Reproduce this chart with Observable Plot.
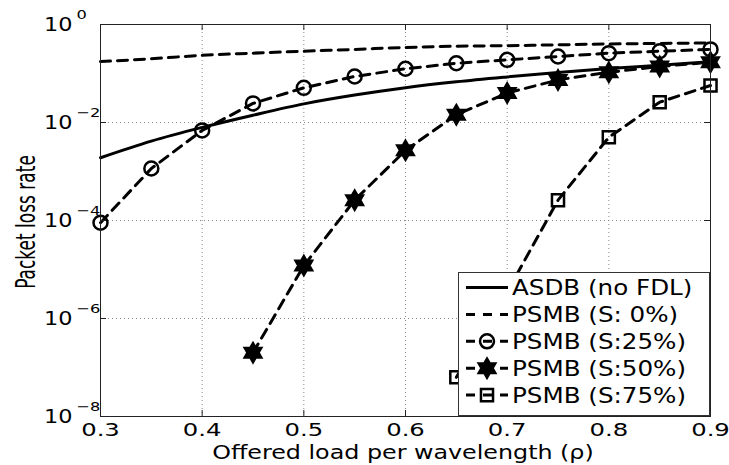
<!DOCTYPE html>
<html><head><meta charset="utf-8">
<script src="https://cdn.jsdelivr.net/npm/d3@7"></script>
<script src="https://cdn.jsdelivr.net/npm/@observablehq/plot@0.6"></script>
<style>
body{margin:0;background:#fff;}
svg{font-family:"DejaVu Sans",sans-serif;}
</style></head><body><div id="chart"></div>
<script>
// ---- data ----
const loads   = [0.3,0.35,0.4,0.45,0.5,0.55,0.6,0.65,0.7,0.75,0.8,0.85,0.9];
const asdb    = [0.00191,0.00417,0.00794,0.0141,0.024,0.0363,0.0513,0.0676,0.0851,0.105,0.126,0.148,0.174];
const psmb0   = [0.175,0.2,0.235,0.26,0.285,0.31,0.34,0.36,0.37,0.385,0.40,0.41,0.42];
const psmb25  = [9e-5,0.00115,0.0069,0.0245,0.051,0.087,0.125,0.162,0.19,0.222,0.26,0.285,0.31];
const loads50 = [0.45,0.5,0.55,0.6,0.65,0.7,0.75,0.8,0.85,0.9];
const psmb50  = [2e-7,1.2e-5,2.6e-4,0.0027,0.0144,0.04,0.074,0.106,0.139,0.17];
const loads75 = [0.65,0.7,0.75,0.8,0.85,0.9];
const psmb75  = [6.3e-8,3.5e-6,2.6e-4,0.005,0.026,0.057];
const seriesNames = ["ASDB (no FDL)","PSMB (S: 0%)","PSMB (S:25%)","PSMB (S:50%)","PSMB (S:75%)"];
const xTicks = [0.3,0.4,0.5,0.6,0.7,0.8,0.9];
const xTickLabels = ["0.3","0.4","0.5","0.6","0.7","0.8","0.9"];
const yTicks = [1e-8,1e-6,1e-4,1e-2,1];
const yTickExp = ["\u22128","\u22126","\u22124","\u22122","0"];
const xLabel = "Offered load per wavelength (\u03c1)";
const yLabel = "Packet loss rate";

const rows = [];
const addSeries = (name, xs, ys) => xs.forEach((x,i)=>rows.push({series:name, x, y:ys[i]}));
addSeries(seriesNames[0], loads, asdb);
addSeries(seriesNames[1], loads, psmb0);
addSeries(seriesNames[2], loads, psmb25);
addSeries(seriesNames[3], loads50, psmb50);
addSeries(seriesNames[4], loads75, psmb75);

const hexagram = { draw(ctx, size) {
  const R = Math.sqrt(size/Math.PI), r = R/Math.sqrt(3);
  for (let i=0;i<12;i++){ const a = Math.PI/6*i - Math.PI/2; const rr = i%2?r:R;
    const x = rr*Math.cos(a), y = rr*Math.sin(a); i?ctx.lineTo(x,y):ctx.moveTo(x,y);}
  ctx.closePath(); } };

const dash = "10,7";
const styles = [
  {dash: null, symbol: null, curve: "monotone-x"},
  {dash: dash, symbol: null, curve: "monotone-x"},
  {dash: dash, symbol: "circle", r: 7, fill: "none", curve: "linear"},
  {dash: dash, symbol: hexagram, r: 9.5, fill: "black", curve: "linear"},
  {dash: dash, symbol: "square", r: 6.8, fill: "none", curve: "linear"}
];
const of = name => rows.filter(d => d.series === name);

const W = 729, H = 465, mL = 100, mR = 19, mT = 24, mB = 49;
const innerW = W - mL - mR, innerH = H - mT - mB;

const marks = [
  Plot.gridX(xTicks, {stroke: "#888", strokeOpacity: 1, strokeDasharray: "1,3"}),
  Plot.gridY(yTicks, {stroke: "#888", strokeOpacity: 1, strokeDasharray: "1,3"}),
];
seriesNames.forEach((name, i) => {
  const s = styles[i];
  marks.push(Plot.line(of(name), {x: "x", y: "y", stroke: "black", strokeWidth: 3, strokeDasharray: s.dash, curve: s.curve}));
  if (s.symbol) marks.push(Plot.dot(of(name), {x: "x", y: "y", symbol: s.symbol, r: s.r,
    stroke: "black", strokeWidth: 2.5, fill: s.fill}));
});
marks.push(
  Plot.ruleX(xTicks, {stroke: "#222", insetTop: innerH - 6}),
  Plot.ruleX(xTicks, {stroke: "#222", insetBottom: innerH - 6}),
  Plot.ruleY(yTicks, {stroke: "#222", insetRight: innerW - 6}),
  Plot.ruleY(yTicks, {stroke: "#222", insetLeft: innerW - 6}),
  Plot.frame({stroke: "#222"}),
  Plot.axisX(xTicks, {tickSize: 0, tickPadding: 7, fontSize: 18, label: null,
    tickFormat: (d, i) => xTickLabels[i], fill: "black", className: "xt"}),
  Plot.axisY(yTicks, {tickSize: 0, tickPadding: 28, fontSize: 20, label: null,
    tickFormat: () => "10", fill: "black", className: "yt"}),
  Plot.text(yTicks, {y: d => d, frameAnchor: "left", text: (d, i) => yTickExp[i],
    dx: -24, dy: -10, textAnchor: "start", fontSize: 13, fill: "black", className: "ye"})
);

const plot = Plot.plot({
  width: W, height: H, marginLeft: mL, marginRight: mR, marginTop: mT, marginBottom: mB,
  x: {domain: [0.3, 0.9]},
  y: {type: "log", domain: [1e-8, 1]},
  style: {fontFamily: "DejaVu Sans", background: "white", color: "black"},
  marks
});
document.getElementById("chart").appendChild(plot);

const svg = d3.select(plot);
const stretch = (sel, s) => sel.each(function() {
  const ax = +this.getAttribute("x") || 0;
  const t = this.getAttribute("transform") || "";
  this.setAttribute("transform", `${t} translate(${ax},0) scale(${s},1) translate(${-ax},0)`);
});
// horizontal stretch of the text, as in the reference rendering
stretch(svg.selectAll(".xt text"), 1.35);
stretch(svg.selectAll(".yt text"), 1.12);
stretch(svg.selectAll(".ye text"), 1.25);

// axis titles
stretch(svg.append("text").attr("x", 403).attr("y", 459).attr("text-anchor","middle")
  .attr("font-size", 20).attr("fill","black").text(xLabel), 1.19);
svg.append("text").attr("text-anchor","middle").attr("font-size", 17)
  .attr("fill","black").attr("transform","translate(35,222) scale(1.6,1) rotate(-90)").text(yLabel);

// legend
const lg = svg.append("g");
lg.append("rect").attr("x", 458.5).attr("y", 272.5).attr("width", 251).attr("height", 143)
  .attr("fill","white").attr("stroke","#333").attr("stroke-width",1);
seriesNames.forEach((name, i) => {
  const s = styles[i], cy = 287.5 + i*26.9;
  lg.append("line").attr("x1",466).attr("x2",508).attr("y1",cy).attr("y2",cy)
    .attr("stroke","black").attr("stroke-width",3)
    .attr("stroke-dasharray", s.dash ? "9,8" : null);
  if (s.symbol) {
    const type = s.symbol === "circle" ? d3.symbolCircle : s.symbol === "square" ? d3.symbolSquare : s.symbol;
    lg.append("path").attr("transform", `translate(487,${cy})`)
      .attr("d", d3.symbol(type, Math.PI * s.r * s.r)())
      .attr("fill", s.fill).attr("stroke","black").attr("stroke-width",2.5);
  }
  stretch(lg.append("text").attr("x",512).attr("y",cy+7.5).attr("text-anchor","start")
    .attr("font-size",20.5).attr("fill","black").text(name), 1.2);
});
</script></body></html>
